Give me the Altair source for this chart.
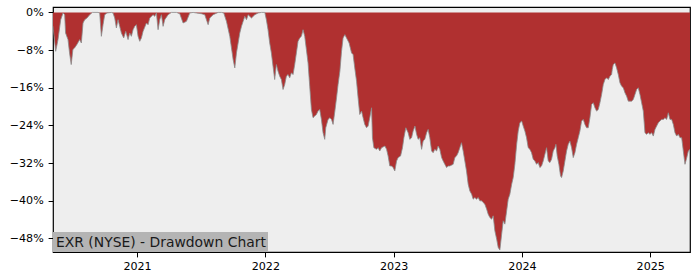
import altair as alt
import pandas as pd

# decimal year, drawdown in percent
years = [
    2020.345, 2020.366, 2020.384, 2020.405, 2020.423, 2020.436, 2020.443, 2020.462, 2020.474, 2020.487,
    2020.500, 2020.513, 2020.531, 2020.553, 2020.566, 2020.579, 2020.592, 2020.610, 2020.631, 2020.652,
    2020.696, 2020.709, 2020.722, 2020.735, 2020.748, 2020.766, 2020.800, 2020.813, 2020.826, 2020.839,
    2020.852, 2020.865, 2020.878, 2020.896, 2020.912, 2020.930, 2020.943, 2020.956, 2020.969, 2020.982,
    2020.995, 2021.008, 2021.021, 2021.034, 2021.047, 2021.073, 2021.086, 2021.099, 2021.125, 2021.138,
    2021.151, 2021.164, 2021.177, 2021.190, 2021.203, 2021.216, 2021.242, 2021.268, 2021.307, 2021.333,
    2021.359, 2021.385, 2021.411, 2021.437, 2021.463, 2021.502, 2021.528, 2021.554, 2021.567, 2021.593,
    2021.632, 2021.658, 2021.676, 2021.697, 2021.723, 2021.749, 2021.762, 2021.775, 2021.788, 2021.801,
    2021.814, 2021.827, 2021.840, 2021.853, 2021.866, 2021.892, 2021.918, 2021.944, 2021.970, 2021.996,
    2022.008, 2022.021, 2022.034, 2022.047, 2022.060, 2022.073, 2022.086, 2022.099, 2022.112, 2022.125,
    2022.138, 2022.151, 2022.164, 2022.177, 2022.190, 2022.203, 2022.216, 2022.229, 2022.242, 2022.255,
    2022.268, 2022.281, 2022.294, 2022.307, 2022.320, 2022.333, 2022.346, 2022.359, 2022.372, 2022.385,
    2022.398, 2022.411, 2022.424, 2022.437, 2022.450, 2022.463, 2022.471, 2022.489, 2022.503, 2022.516,
    2022.528, 2022.542, 2022.555, 2022.567, 2022.581, 2022.594, 2022.606, 2022.620, 2022.633, 2022.653,
    2022.672, 2022.684, 2022.697, 2022.711, 2022.723, 2022.736, 2022.750, 2022.762, 2022.775, 2022.789,
    2022.801, 2022.814, 2022.828, 2022.835, 2022.846, 2022.867, 2022.879, 2022.892, 2022.906, 2022.932,
    2022.945, 2022.957, 2022.970, 2022.984, 2022.996, 2023.009, 2023.023, 2023.035, 2023.054, 2023.069,
    2023.080, 2023.095, 2023.113, 2023.126, 2023.140, 2023.152, 2023.166, 2023.179, 2023.191, 2023.204,
    2023.218, 2023.230, 2023.243, 2023.257, 2023.269, 2023.282, 2023.296, 2023.308, 2023.321, 2023.335,
    2023.347, 2023.360, 2023.374, 2023.386, 2023.399, 2023.413, 2023.425, 2023.438, 2023.464, 2023.477,
    2023.490, 2023.503, 2023.516, 2023.529, 2023.542, 2023.555, 2023.568, 2023.581, 2023.594, 2023.608,
    2023.620, 2023.633, 2023.646, 2023.659, 2023.672, 2023.686, 2023.698, 2023.711, 2023.725, 2023.737,
    2023.750, 2023.764, 2023.776, 2023.789, 2023.803, 2023.815, 2023.828, 2023.842, 2023.854, 2023.867,
    2023.881, 2023.893, 2023.906, 2023.920, 2023.932, 2023.945, 2023.959, 2023.971, 2023.984, 2023.998,
    2024.010, 2024.023, 2024.036, 2024.049, 2024.062, 2024.075, 2024.088, 2024.101, 2024.114, 2024.127,
    2024.140, 2024.153, 2024.166, 2024.179, 2024.192, 2024.205, 2024.218, 2024.231, 2024.244, 2024.257,
    2024.265, 2024.275, 2024.288, 2024.301, 2024.309, 2024.322, 2024.335, 2024.348, 2024.361, 2024.374,
    2024.387, 2024.400, 2024.413, 2024.426, 2024.439, 2024.452, 2024.465, 2024.478, 2024.491, 2024.504,
    2024.517, 2024.530, 2024.543, 2024.556, 2024.569, 2024.582, 2024.595, 2024.608, 2024.621, 2024.634,
    2024.647, 2024.660, 2024.673, 2024.686, 2024.699, 2024.704, 2024.712, 2024.725, 2024.738, 2024.751,
    2024.764, 2024.777, 2024.790, 2024.803, 2024.816, 2024.829, 2024.842, 2024.855, 2024.868, 2024.881,
    2024.894, 2024.907, 2024.920, 2024.933, 2024.946, 2024.959, 2024.972, 2024.985, 2024.998, 2025.011,
    2025.024, 2025.037, 2025.050, 2025.063, 2025.076, 2025.089, 2025.102, 2025.115, 2025.128, 2025.141,
    2025.154, 2025.167, 2025.180, 2025.193, 2025.206, 2025.219, 2025.232, 2025.245, 2025.258, 2025.271,
    2025.285, 2025.297, 2025.310,
]

drawdown = [
    -2.96, -8.26, -5.78, -1.55, -0.13, -0.49, -4.37, -5.78, -8.60, -11.08,
    -7.90, -7.55, -6.84, -5.78, -6.49, -2.25, -1.55, -1.19, -0.49, 0.00,
    0.00, -0.13, -5.08, -2.61, -0.49, -0.13, 0.00, -0.13, -1.19, -3.31,
    -1.55, -2.96, -4.37, -5.43, -4.02, -5.78, -4.37, -5.08, -3.67, -2.96,
    -2.61, -5.08, -6.14, -5.43, -4.02, -2.25, -2.61, -1.19, -0.49, -0.84,
    -0.13, -3.67, -1.55, -0.49, -2.96, -1.55, -0.49, 0.00, 0.00, -0.28,
    -2.25, -1.90, -0.13, 0.00, -0.13, -0.28, -0.49, -2.61, -1.19, -0.49,
    0.00, 0.00, -0.13, -1.90, -5.08, -10.02, -11.79, -8.60, -6.49, -4.37,
    -2.96, -1.90, -0.84, -1.55, -0.49, -1.19, -0.49, -0.13, 0.00, 0.00,
    -1.55, -3.67, -6.49, -8.60, -11.43, -14.26, -11.08, -12.49, -13.55, -14.26,
    -16.38, -15.32, -13.55, -13.20, -13.90, -12.84, -13.20, -11.08, -8.60, -6.14,
    -5.43, -5.08, -3.67, -5.08, -7.90, -10.73, -15.67, -20.61, -22.38, -22.03,
    -21.67, -20.97, -20.61, -22.73, -25.56, -26.97, -24.50, -22.73, -22.39, -22.73,
    -23.79, -20.97, -18.14, -15.32, -12.49, -8.26, -5.43, -4.72, -5.43, -6.49,
    -8.61, -8.96, -11.79, -14.61, -18.14, -21.68, -20.97, -22.38, -23.79, -24.50,
    -24.15, -22.38, -20.26, -26.62, -28.74, -29.09, -28.74, -29.44, -28.74, -28.38,
    -29.09, -30.50, -32.62, -32.62, -32.97, -33.68, -31.56, -30.85, -30.50, -28.74,
    -26.62, -24.50, -25.56, -26.97, -26.62, -25.21, -24.15, -25.91, -26.97, -26.62,
    -29.09, -27.32, -26.97, -25.56, -24.85, -26.62, -29.44, -29.80, -29.09, -29.44,
    -28.38, -29.09, -30.85, -31.56, -32.27, -32.97, -32.62, -32.62, -32.27, -30.85,
    -30.50, -29.80, -28.74, -27.68, -29.44, -31.56, -33.68, -36.50, -37.92, -38.62,
    -39.68, -39.33, -39.68, -39.33, -40.03, -40.03, -40.39, -40.74, -41.80, -42.86,
    -43.57, -43.92, -43.21, -46.39, -48.16, -49.92, -50.49, -47.10, -44.27, -44.98,
    -42.15, -39.68, -38.62, -36.50, -35.09, -32.27, -28.03, -25.21, -23.44, -23.09,
    -24.15, -25.21, -26.62, -28.74, -29.09, -29.80, -31.21, -31.56, -32.27, -31.91,
    -32.97, -32.62, -31.56, -30.15, -28.74, -31.56, -31.91, -31.21, -29.44, -28.74,
    -28.03, -30.50, -32.27, -34.74, -35.09, -33.68, -31.56, -29.44, -28.03, -27.32,
    -28.74, -30.85, -29.80, -28.03, -26.62, -25.21, -23.09, -22.73, -23.79, -24.50,
    -24.50, -22.38, -19.56, -19.20, -20.26, -20.97, -20.62, -19.20, -17.44, -15.32,
    -14.26, -13.90, -14.26, -13.55, -13.20, -12.14, -11.08, -10.73, -11.79, -13.20,
    -14.96, -15.67, -16.02, -17.08, -17.79, -18.85, -18.85, -18.85, -18.50, -17.44,
    -16.38, -16.02, -17.44, -19.20, -20.97, -25.56, -25.91, -25.56, -25.91, -25.56,
    -26.27, -24.85, -24.15, -23.44, -23.09, -22.73, -22.73, -22.38, -22.73, -21.32,
    -22.73, -22.73, -23.79, -25.56, -26.27, -25.91, -26.62, -26.62, -29.44, -32.27,
    -30.85, -29.44, -29.09,
]

y_ticks = [0, -8, -16, -24, -32, -40, -48]
x_ticks = [2021, 2022, 2023, 2024, 2025]
label_text = "EXR (NYSE) - Drawdown Chart"

df = pd.DataFrame({"year": years, "dd": drawdown})

FONT = "DejaVu Sans"
W, H = 637, 245

x_enc = alt.X(
    "year:Q",
    scale=alt.Scale(domain=[2020.345, 2025.31], nice=False, zero=False),
    axis=alt.Axis(values=x_ticks, format="d", title=None, grid=False,
                  labelFont=FONT, labelFontSize=11.1, labelColor="#000",
                  tickColor="#000", tickSize=4.9, tickWidth=1,
                  domain=False, labelPadding=4),
)
y_scale = alt.Scale(domain=[-50.9, 1.15], nice=False, zero=False)

area = alt.Chart(df).mark_area(color="#b03030", clip=True, interpolate="linear").encode(
    x=x_enc,
    y=alt.Y("dd:Q", scale=y_scale,
            axis=alt.Axis(values=y_ticks, title=None, grid=False,
                          labelExpr="datum.value == 0 ? '0%' : '\u2212' + toString(abs(datum.value)) + '%'",
                          labelFont=FONT, labelFontSize=11.1, labelColor="#000",
                          tickColor="#000", tickSize=4.9, tickWidth=1,
                          domain=False, labelPadding=4.9)),
    y2=alt.datum(0),
)

edge = alt.Chart(df).mark_line(color="#8a8a8a", strokeWidth=0.8, clip=True).encode(
    x="year:Q",
    y=alt.Y("dd:Q", scale=y_scale),
)

box = alt.Chart(pd.DataFrame({"t": [label_text]})).mark_rect(color="#b4b4b4").encode(
    x=alt.value(0), x2=alt.value(215), y=alt.value(225), y2=alt.value(245)
)
txt = alt.Chart(pd.DataFrame({"t": [label_text]})).mark_text(
    align="left", baseline="middle", font=FONT, fontSize=13.9, color="#1a1a1a"
).encode(text="t:N", x=alt.value(3), y=alt.value(235.5))

chart = alt.layer(area, edge, box, txt).properties(
    width=W, height=H,
    autosize=alt.AutoSizeParams(type="none"),
    padding={"left": 53, "top": 7, "right": 10, "bottom": 28},
    background="#ffffff",
).configure_view(fill="#eeeeee", stroke="#000000", strokeWidth=1.2)

chart.save("out.html", embed_options={"renderer": "svg", "actions": False})
